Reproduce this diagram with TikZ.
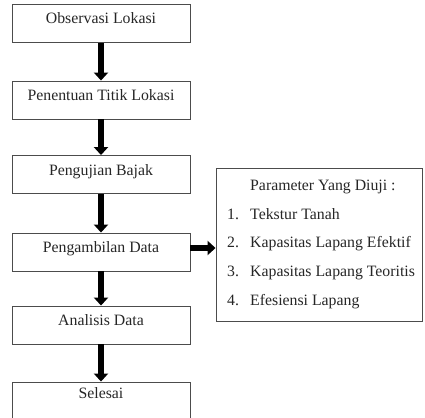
\documentclass[tikz,border=0pt]{standalone}
\usepackage{fontspec}
\setmainfont{Liberation Serif}
\usetikzlibrary{arrows.meta}
\begin{document}
\begin{tikzpicture}[x=1pt,y=-1pt,
  mainfont/.style={font=\fontsize{15.8}{19}\selectfont},
  stepbox/.style={draw=black!70, line width=0.9pt, minimum width=178pt, minimum height=38pt,
    inner sep=0pt, text height=11pt, text depth=10pt, mainfont, text=black!85},
  flow/.style={line width=6pt, -{Triangle[width=14pt,length=8pt]}, black},
  txt/.style={anchor=base west, inner sep=0pt, mainfont, text=black!85}]
\useasboundingbox (0,0) rectangle (425,417);
\begin{scope}
\clip (0,0) rectangle (425,417);
\node[stepbox] (b1) at (101,23.5) {Observasi Lokasi};
\node[stepbox] (b2) at (101,100) {Penentuan Titik Lokasi};
\node[stepbox] (b3) at (101,174.5) {Pengujian Bajak};
\node[stepbox] (b4) at (101,252) {Pengambilan Data};
\node[stepbox] (b5) at (101,325) {Analisis Data};
\node[stepbox, minimum height=46pt, text depth=24pt] (b6) at (101,405) {Selesai};
\draw[flow] (b1.south) -- (b2.north);
\draw[flow] (b2.south) -- (b3.north);
\draw[flow] (b3.south) -- (b4.north);
\draw[flow] (b4.south) -- (b5.north);
\draw[flow] (b5.south) -- (b6.north);
\node[draw=black!70, line width=0.9pt, minimum width=206pt, minimum height=153pt, inner sep=0pt] (pbox) at (319,244.5) {};
\coordinate (a1) at ([yshift=4pt]b4.east);
\draw[flow] (a1) -- (a1 -| pbox.west);
\node[txt] (t0) at (250,190) {Parameter Yang Diuji :};
\node[txt] (n1) at (227,219) {1.};
\node[txt] (t1) at (250,219) {Tekstur Tanah};
\node[txt] (n2) at (227,247) {2.};
\node[txt] (t2) at (250,247) {Kapasitas Lapang Efektif};
\node[txt] (n3) at (227,276) {3.};
\node[txt] (t3) at (250,276) {Kapasitas Lapang Teoritis};
\node[txt] (n4) at (227,305) {4.};
\node[txt] (t4) at (250,305) {Efesiensi Lapang};
\end{scope}
\end{tikzpicture}
\end{document}
